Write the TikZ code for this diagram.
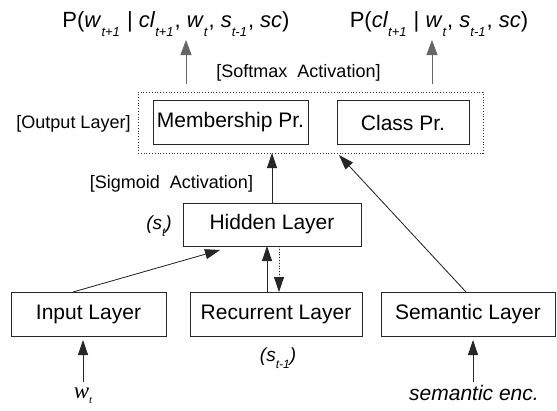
\documentclass[tikz,border=0pt]{standalone}
\usepackage{fontspec}
\setmainfont{Liberation Sans}
\newfontfamily\seriffont{Liberation Serif}
\usetikzlibrary{arrows.meta,calc}
\newcommand{\mysub}[1]{\raisebox{-0.42em}{\fontsize{13}{13}\selectfont\itshape #1}\hspace{1pt}}
\begin{document}
\begin{tikzpicture}[x=1pt,y=-1pt,
  layer/.style={draw=black!85,line width=0.9pt,inner sep=0pt,outer sep=0pt,
    minimum height=44pt,font=\fontsize{21}{25}\selectfont},
  lbl/.style={inner sep=0pt,anchor=base,font=\fontsize{18}{22}\selectfont},
  formula/.style={inner sep=0pt,anchor=base,font=\fontsize{22}{26}\selectfont},
  arr/.style={-{Triangle[length=15pt,width=10pt]},line width=0.8pt,draw=black!85,fill=black},
  garr/.style={-{Triangle[length=15pt,width=11pt]},line width=0.9pt,draw=black!60,fill=black}
]
\useasboundingbox (0,0) rectangle (557,410);

% output layer
\node[draw=black!80,dotted,line width=0.8pt,inner sep=0pt,outer sep=0pt,
  minimum width=345pt,minimum height=61pt] (outbox) at (310.5,122.5) {};
\node[layer,minimum width=155pt] (memb) at (230.5,122) {Membership Pr.};
\node[layer,minimum width=132pt] (cls) at (403,122.5) {Class Pr.};

% other layers
\node[layer,minimum width=178pt,minimum height=43pt] (hid) at (272,224.5) {Hidden Layer};
\node[layer,minimum width=155pt] (inp) at (88.5,314) {Input Layer};
\node[layer,minimum width=172pt] (rec) at (276,314) {Recurrent Layer};
\node[layer,minimum width=174pt] (sem) at (468,314) {Semantic Layer};

% texts
\node[formula] (f1) at (176,27) {P(\textit{w}\mysub{t+1}\ | \textit{cl}\mysub{t+1}, \textit{w}\mysub{t}, \textit{s}\mysub{t-1}, \textit{sc})};
\node[formula] (f2) at (439,27) {P(\textit{cl}\mysub{t+1}\ | \textit{w}\mysub{t}, \textit{s}\mysub{t-1}, \textit{sc})};
\node[lbl] (softmax) at (298.5,77) {[Softmax\ \ Activation]};
\node[lbl] (outlbl) at (73.5,128.5) {[Output Layer]};
\node[lbl] (sigmoid) at (171.5,188.5) {[Sigmoid\ \ Activation]};
\node[formula,font=\fontsize{19}{23}\selectfont] (st) at (159,229) {\textit{(s}\raisebox{-0.42em}{\fontsize{12}{12}\selectfont\itshape t}\textit{)}};
\node[formula,font=\fontsize{19}{23}\selectfont] (stm) at (278,361) {\textit{(s}\raisebox{-0.42em}{\fontsize{12}{12}\selectfont\itshape t-1}\textit{)}};
\node[formula,font=\fontsize{23}{27}\selectfont\seriffont] (wt) at (83,398) {\textit{w}\raisebox{-0.25em}{\fontsize{11}{11}\selectfont\itshape t}};
\node[formula,font=\fontsize{21}{25}\selectfont\itshape] (senc) at (474,400) {semantic enc.};

% arrow end points
\coordinate (o1) at (186,84);  \coordinate (p1) at (186,40);
\coordinate (o2) at (432,84);  \coordinate (p2) at (432,40);
\coordinate (inS) at (73,292); \coordinate (hidIn) at (220,250);
\coordinate (semS) at (466,292); \coordinate (outIn) at (339,155);
\coordinate (wS) at (83,382); \coordinate (inpIn) at (83,340);
\coordinate (eS) at (473,382); \coordinate (semIn) at (473,340);

\draw[garr] (o1) -- (p1);
\draw[garr] (o2) -- (p2);
\draw[arr] (hid.north) -- (hid.north |- outbox.south);
\draw[arr] (inS) -- (hidIn);
\draw[arr] (rec.north -| 267,0) -- (hid.south -| 267,0);
\draw[arr,dotted] (hid.south -| 279,0) -- (rec.north -| 279,0);
\draw[arr] (semS) -- (outIn);
\draw[arr] (wS) -- (inpIn);
\draw[arr] (eS) -- (semIn);
\end{tikzpicture}
\end{document}
